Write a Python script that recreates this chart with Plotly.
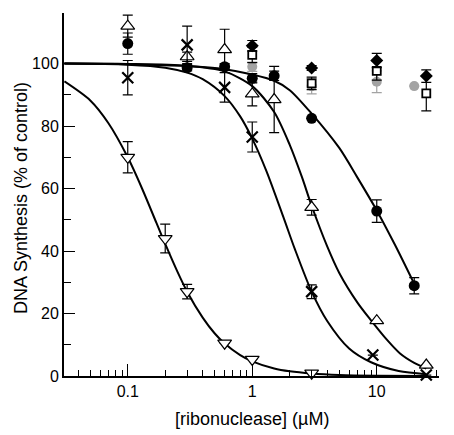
import plotly.graph_objects as go

# ---- data ----
# open down-triangles
dn_x = [0.1, 0.2, 0.3, 0.6, 1.0, 3.0]
dn_y = [70.0, 44.0, 27.0, 10.5, 5.3, 0.9]
dn_e = [5.0, 4.6, 2.3, 0, 0, 0]
# crosses
cr_x = [0.1, 0.3, 0.6, 1.0, 3.0, 9.3, 25]
cr_y = [95.5, 106.0, 92.4, 76.5, 27.0, 6.7, 0.3]
cr_e = [5.5, 6.0, 4.7, 4.8, 2.2, 0, 0]
# open up-triangles
up_x = [0.1, 0.3, 0.6, 1.0, 1.5, 3.0, 10, 25]
up_y = [112.0, 102.2, 104.5, 90.3, 88.5, 54.0, 17.7, 3.5]
up_e = [3.5, 1.5, 6.5, 3.8, 10.6, 2.5, 0, 0]
# filled black circles
fc_x = [0.1, 0.3, 0.6, 1.0, 1.5, 3.0, 10, 20]
fc_y = [106.4, 98.7, 99.0, 95.3, 96.1, 82.5, 52.8, 28.9]
fc_e = [3.4, 1.0, 1.0, 1.5, 1.5, 0, 3.6, 2.6]
# filled diamonds
di_x = [1.0, 3.0, 10, 25]
di_y = [105.7, 98.6, 101.0, 96.0]
di_e = [1.7, 0.8, 2.3, 2.0]
# open squares
sq_x = [1.0, 3.0, 10, 25]
sq_y = [102.8, 93.7, 97.7, 90.5]
sq_e = [2.5, 2.0, 3.0, 5.6]
# grey circles
gc_x = [1.0, 3.0, 10, 20]
gc_y = [99.0, 92.8, 94.2, 92.8]
gc_e = [1.5, 2.5, 3.5, 0]

# fitted curves
dn_cx = [0.031, 0.05, 0.07, 0.1, 0.13, 0.17, 0.2, 0.25, 0.3, 0.4, 0.5, 0.6, 0.8, 1.0, 1.5, 2.0, 3.0, 5.0, 10, 25]
dn_cy = [94.3, 88.2, 80.9, 70.0, 60.1, 49.0, 42.3, 33.5, 27.0, 18.7, 13.6, 10.4, 6.7, 4.7, 2.4, 1.5, 0.8, 0.33, 0.1, 0.02]
cr_cx = [0.031, 0.1, 0.2, 0.3, 0.4, 0.6, 0.8, 1.0, 1.3, 1.8, 2.2, 3.0, 4.0, 6.0, 9.0, 15, 25]
cr_cy = [100.0, 99.65, 98.7, 97.1, 95.0, 89.6, 83.1, 76.0, 65.6, 50.3, 40.6, 27.0, 17.6, 8.8, 4.4, 1.6, 0.6]
up_cx = [0.031, 0.1, 0.3, 0.6, 1.0, 1.5, 2.0, 2.5, 3.0, 4.0, 5.0, 7.0, 9.0, 12, 15.3, 20, 25]
up_cy = [100.0, 99.9, 99.3, 97.5, 92.8, 84.5, 74.0, 63.8, 54.5, 41.5, 33.0, 23.5, 17.8, 11.7, 7.3, 4.2, 2.4]
fc_cx = [0.031, 0.1, 0.3, 0.6, 1.0, 1.5, 2.0, 3.0, 5.0, 7.0, 10, 14, 20]
fc_cy = [100.0, 99.8, 99.2, 98.2, 96.5, 94.5, 91.5, 84.0, 73.0, 63.5, 53.0, 42.0, 29.5]

x_ticks = [0.1, 1, 10]
x_tick_text = ["0.1", "1", "10"]
x_minor = [0.04, 0.05, 0.06, 0.07, 0.08, 0.09, 0.2, 0.3, 0.4, 0.5, 0.6, 0.7, 0.8, 0.9,
           2, 3, 4, 5, 6, 7, 8, 9, 20, 30]
y_ticks = [0, 20, 40, 60, 80, 100]
y_minor = [10, 30, 50, 70, 90]

GREY = "#a3a3a3"

fig = go.Figure()

for cx, cy in [(dn_cx, dn_cy), (cr_cx, cr_cy), (up_cx, up_cy), (fc_cx, fc_cy)]:
    fig.add_trace(go.Scatter(x=cx, y=cy, mode="lines",
                             line=dict(color="black", width=2, shape="spline", smoothing=0.8),
                             hoverinfo="skip", cliponaxis=False))

def pts(x, y, e, symbol, size, fill, lc, lw, ecol="black"):
    fig.add_trace(go.Scatter(
        x=x, y=y, mode="markers", cliponaxis=False,
        marker=dict(symbol=symbol, size=size, color=fill, line=dict(color=lc, width=lw)),
        error_y=dict(type="data", array=e, visible=True, color=ecol, thickness=1.2, width=5)))

pts(gc_x, gc_y, gc_e, "circle", 10, GREY, GREY, 0, GREY)
pts(dn_x, dn_y, dn_e, "triangle-down", 12, "white", "black", 1.2)
pts(up_x, up_y, up_e, "triangle-up", 12, "white", "black", 1.2)
pts(cr_x, cr_y, cr_e, "x-thin-open", 11, "black", "black", 2.2)
pts(fc_x, fc_y, fc_e, "circle", 11, "black", "black", 0)
pts(sq_x, sq_y, sq_e, "square", 8, "white", "black", 1.8)
pts(di_x, di_y, di_e, "diamond", 10, "black", "black", 0)

fig.update_layout(
    width=454, height=435,
    margin=dict(l=56, r=23, t=5, b=67),
    paper_bgcolor="white", plot_bgcolor="white",
    showlegend=False,
    font=dict(family="Liberation Sans, Arial, sans-serif", size=15, color="black"),
    xaxis=dict(type="log", range=[-1.512, 1.50], showgrid=False, zeroline=False,
               showline=True, linecolor="black", linewidth=2,
               tickmode="array", tickvals=x_ticks, ticktext=x_tick_text,
               ticks="inside", ticklen=12, tickwidth=1.3, tickcolor="black",
               tickfont=dict(size=16),
               minor=dict(tickmode="array", tickvals=x_minor, ticks="inside",
                          ticklen=6, tickwidth=1.2, tickcolor="black", showgrid=False)),
    yaxis=dict(range=[0, 116.2], showgrid=False, zeroline=False,
               showline=True, linecolor="black", linewidth=2,
               tickmode="array", tickvals=y_ticks,
               ticks="inside", ticklen=11, tickwidth=1.3, tickcolor="black",
               tickfont=dict(size=16),
               minor=dict(tickmode="array", tickvals=y_minor, ticks="inside",
                          ticklen=7, tickwidth=1.2, tickcolor="black", showgrid=False)),
    annotations=[
        dict(text="DNA Synthesis (% of control)", xref="paper", yref="paper",
             x=-(64 - 21) / 375, y=(376 - 198) / 363, xanchor="center", yanchor="middle",
             textangle=-90, showarrow=False, font=dict(size=18)),
        dict(text="[ribonuclease] (µM)", xref="paper", yref="paper",
             x=(252 - 64) / 375, y=-(419 - 376) / 363, xanchor="center", yanchor="middle",
             showarrow=False, font=dict(size=18)),
    ],
)

fig.write_html("out.html")
